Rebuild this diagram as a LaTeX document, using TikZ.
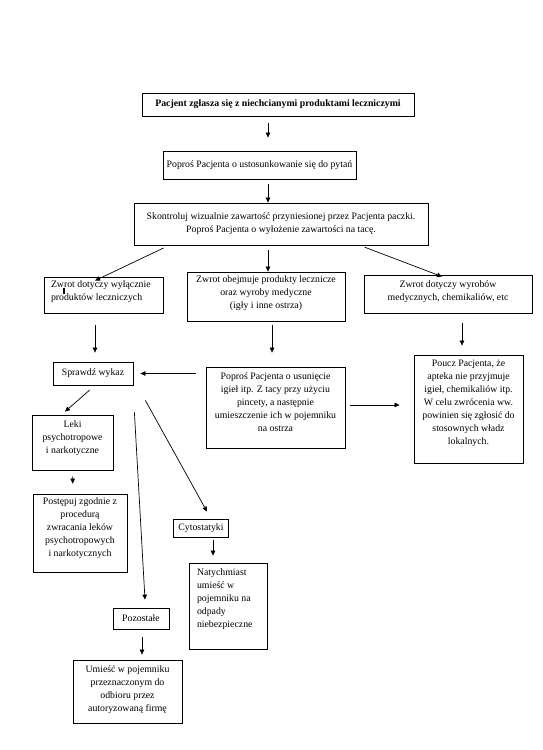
\documentclass[tikz,border=0pt]{standalone}
\usepackage{fontspec}
\setmainfont{Liberation Serif}
\usetikzlibrary{arrows.meta}

% box contents: width, height, top gap, text
\newcommand{\boxtext}[4]{\parbox[c][#2pt][t]{#1pt}{\vspace*{#3pt}#4}}
\newcommand{\midtext}[3]{\parbox[c][#2pt][c]{#1pt}{\centering #3}}

\begin{document}
\begin{tikzpicture}[x=1pt, y=-1pt,
        stepbox/.style={draw, line width=0.8pt, inner sep=0pt, font=\fontsize{9.8}{13}\selectfont},
        arr/.style={-{Triangle[length=5pt,width=4.5pt]}, line width=0.7pt}]
        \useasboundingbox (0,0) rectangle (542,750);

        % Start
        \node[stepbox] (pacjent) at (278,104.5) {\midtext{272}{23}{\textbf{Pacjent zgłasza się z niechcianymi produktami leczniczymi}}};
        \node[stepbox] (pytania) at (259.5,165) {\midtext{193}{28}{Poproś Pacjenta o ustosunkowanie się do pytań}};
        \node[stepbox] (kontrola) at (281,224) {\midtext{294}{42}{Skontroluj wizualnie zawartość przyniesionej przez  Pacjenta paczki.\\ Poproś Pacjenta o wyłożenie zawartości  na tacę.}};

        % Rodzaj zwrotu
        \node[stepbox] (lecznicze) at (103.5,295) {\boxtext{119}{36}{3.5}{\raggedright\leftskip=7pt Zwrot dotyczy  wyłącznie\\ produktów leczniczych}};
        \node[stepbox] (obejmuje) at (266,296.5) {\boxtext{158}{49}{3.5}{\centering Zwrot obejmuje produkty lecznicze\\ oraz wyroby medyczne\\ (igły i inne ostrza)}};
        \node[stepbox] (wyroby) at (448,294) {\boxtext{168}{38}{5.5}{\centering Zwrot dotyczy wyrobów\\ medycznych, chemikaliów, etc}};

        % Dalsze kroki
        \node[stepbox] (sprawdz) at (93,373.5) {\midtext{80}{23}{Sprawdź wykaz}};
        \node[stepbox] (usun) at (275.5,407.5) {\boxtext{139}{81}{5.5}{\centering Poproś Pacjenta o usunięcie\\ igieł itp. Z tacy przy użyciu\\ pincety, a następnie\\ umieszczenie ich w pojemniku\\ na ostrza}};
        \node[stepbox] (poucz) at (468.5,409) {\boxtext{109}{108}{5.5}{\centering Poucz Pacjenta, że\\ apteka nie przyjmuje\\ igieł, chemikaliów itp.\\ W celu zwrócenia ww.\\ powinien się zgłosić do\\ stosownych władz\\ lokalnych.}};

        % Wykaz
        \node[stepbox] (leki) at (72.5,442.5) {\boxtext{81}{55}{5.5}{\centering Leki\\ psychotropowe\\ i narkotyczne}};
        \node[stepbox] (postepuj) at (80,533) {\boxtext{94}{78}{3.5}{\centering Postępuj zgodnie z\\ procedurą\\ zwracania leków\\ psychotropowych\\ i narkotycznych}};
        \node[stepbox] (cyto) at (201,528) {\midtext{55}{18}{Cytostatyki}};
        \node[stepbox] (nat) at (228,606) {\boxtext{78}{86}{5.5}{\raggedright\leftskip=8pt Natychmiast\\ umieść w\\ pojemniku na\\ odpady\\ niebezpieczne}};
        \node[stepbox] (pozostale) at (141,618.5) {\midtext{56}{21}{Pozostałe}};
        \node[stepbox] (umiesc) at (127.5,691.5) {\boxtext{109}{63}{5.5}{\centering Umieść w pojemniku\\ przeznaczonym  do\\ odbioru przez\\ autoryzowaną firmę}};

        % Arrows
        \draw[arr, shorten <=7pt, shorten >=13pt] ([xshift=-10pt]pacjent.south) -- ([xshift=8.5pt]pytania.north);
        \draw[arr, shorten <=5pt] ([xshift=8.5pt]pytania.south) -- ([xshift=-13pt]kontrola.north);
        \draw[arr, shorten <=6pt] ([xshift=-112pt]kontrola.south) -- ([xshift=-8.5pt,yshift=-4pt]lecznicze.north);
        \draw[arr, shorten <=5pt] ([xshift=-13pt]kontrola.south) -- ([xshift=2pt]obejmuje.north);
        \draw[arr, shorten <=5pt] ([xshift=79pt]kontrola.south) -- ([xshift=-6pt,yshift=-2pt]wyroby.north);
        \draw[arr, shorten <=12pt, shorten >=9pt] ([xshift=-8.5pt]lecznicze.south) -- ([xshift=2pt]sprawdz.north);
        \draw[arr, shorten <=4pt, shorten >=14pt] ([xshift=6pt]obejmuje.south) -- ([xshift=-3.5pt]usun.north);
        \draw[arr, shorten <=10pt, shorten >=9pt] ([xshift=14pt]wyroby.south) -- ([xshift=-6.5pt]poucz.north);
        \draw[arr, shorten <=10pt, shorten >=7pt] ([yshift=34pt]usun.west) -- (sprawdz.east);
        \draw[arr, shorten <=5pt, shorten >=14pt] ([yshift=2.5pt]usun.east) -- ([yshift=4pt]poucz.west);
        \draw[arr, shorten <=7pt] ([xshift=2pt]sprawdz.south) -- ([xshift=-7.5pt,yshift=3pt]leki.north);
        \draw[arr] ([xshift=1pt,yshift=-27pt]sprawdz.south east) -- ([xshift=4pt,yshift=8pt]pozostale.north);
        \draw[arr] ([xshift=12pt,yshift=-15pt]sprawdz.south east) -- ([xshift=6pt,yshift=7pt]cyto.north);
        \draw[arr, shorten <=6pt, shorten >=10pt] (leki.south) -- ([xshift=-7pt]postepuj.north);
        \draw[arr, shorten <=3pt, shorten >=7pt] ([xshift=12pt]cyto.south) -- ([xshift=-15pt]nat.north);
        \draw[arr, shorten <=8pt, shorten >=5pt] ([xshift=1pt]pozostale.south) -- ([xshift=14.5pt]umiesc.north);

        % kreska w tekscie
        \draw[line width=1.2pt] ([xshift=-39.5pt,yshift=-11pt]lecznicze.north) -- ++(0,6);
    \end{tikzpicture}
\end{document}
